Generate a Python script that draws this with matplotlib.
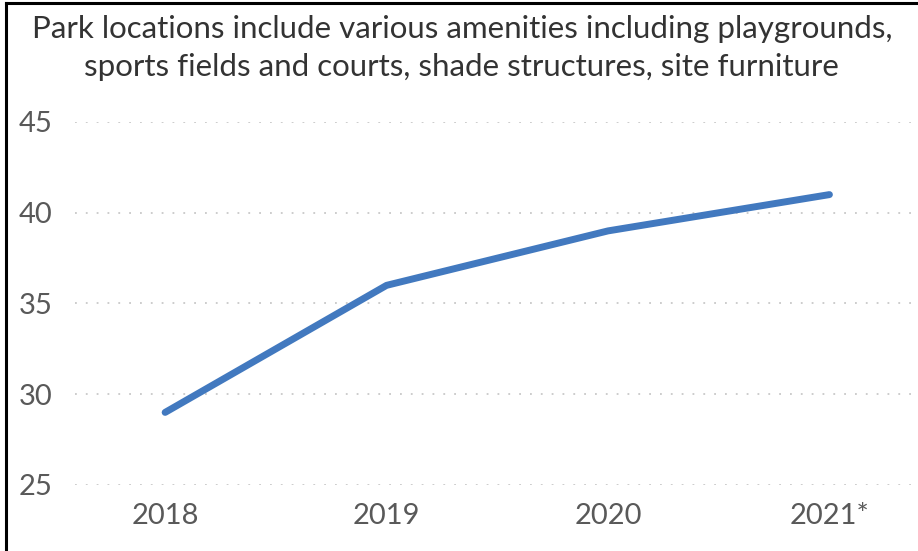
import matplotlib
matplotlib.use("Agg")
import matplotlib.pyplot as plt
from matplotlib.lines import Line2D

years = ["2018", "2019", "2020", "2021*"]
parks = [29, 36, 39, 41]
yticks = [25, 30, 35, 40, 45]
title = ("Park locations include various amenities including playgrounds,\n"
         "sports fields and courts, shade structures, site furniture")

plt.rcParams['font.family'] = ['Lato', 'DejaVu Sans']

fig = plt.figure(figsize=(9.18, 5.51), dpi=100)
ax = fig.add_axes([75 / 918, 1 - 485 / 551, 1 - 75 / 918, (485 - 122) / 551])

x = range(len(years))
ax.plot(x, parks, color='#4279BF', linewidth=5, solid_capstyle='round', clip_on=False, zorder=3)

ax.set_xlim(-0.407, 3.40)
ax.set_ylim(25, 45)
ax.set_yticks(yticks)
ax.set_xticks(list(x))
ax.set_xticklabels(years)
ax.grid(axis='y', color='#c8c8c8', linestyle=(0, (1, 5)), linewidth=1.3)
ax.tick_params(length=0, labelsize=21, labelcolor='#595959')
ax.tick_params(axis='y', pad=16)
ax.tick_params(axis='x', pad=13)
for s in ax.spines.values():
    s.set_visible(False)

fig.text(0.503, 1 - 48 / 551, title, ha='center', va='center', fontsize=22.5,
         color='#333333', linespacing=1.45)

# border of the chart frame (only left and top are visible)
fig.add_artist(Line2D([6 / 918, 6 / 918], [0, 1 - 3 / 551], color='black', linewidth=2.2))
fig.add_artist(Line2D([6 / 918, 1], [1 - 3 / 551, 1 - 3 / 551], color='black', linewidth=2.2))

fig.savefig("out.png", dpi=100)
